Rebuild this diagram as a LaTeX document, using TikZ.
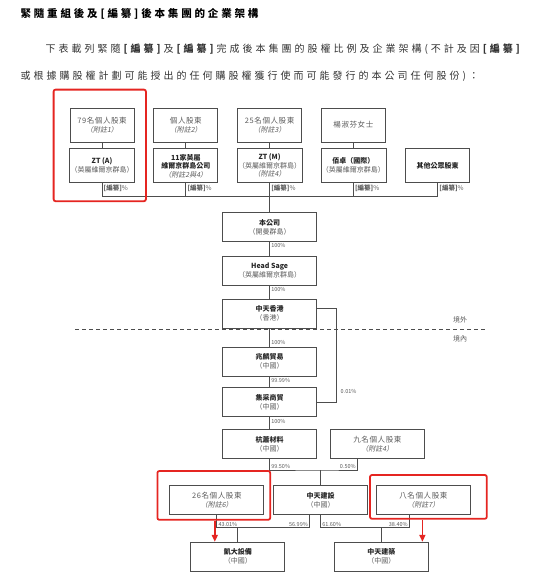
\documentclass[tikz,border=0pt]{standalone}
\usepackage{fontspec}
\setmainfont{Noto Sans CJK TC}[AutoFakeSlant=0.2]
\usepackage{xcolor}
\usepackage{tikz}
\usetikzlibrary{arrows.meta, positioning, fit, calc}
\definecolor{hlred}{HTML}{E52521}
\definecolor{boxline}{HTML}{4D4D4D}
\definecolor{txtgray}{HTML}{5A5A5A}
\newcommand{\ename}[1]{{\bfseries\color{black!85}#1}}
\newcommand{\hname}[1]{{\fontsize{7.5}{9}\selectfont\addfontfeature{LetterSpace=8}#1}}
\newcommand{\notetxt}[1]{{\itshape #1}}

\begin{document}
\begin{tikzpicture}[x=1pt, y=-1pt,
    every node/.style={font=\fontsize{7}{9}\selectfont, text=txtgray},
    holder/.style={rectangle, draw=boxline, line width=0.8pt, minimum width=64pt, minimum height=34pt, align=center, inner sep=1pt},
    ent/.style={rectangle, draw=boxline, line width=0.8pt, minimum width=94pt, minimum height=29pt, align=center, inner sep=1pt},
    pct/.style={font=\fontsize{5.5}{6}\selectfont, inner sep=1.5pt},
    pctb/.style={font=\fontsize{6.5}{7}\selectfont, inner sep=1.5pt},
    link/.style={draw=boxline, line width=0.7pt},
    hl/.style={rectangle, draw=hlred, line width=1.8pt, rounded corners=2pt, inner sep=0pt},
    redarr/.style={-{Triangle[length=7pt, width=6pt]}, draw=hlred, line width=1.6pt}
]
    \useasboundingbox (0,0) rectangle (550,578);

    \node (title) [anchor=west, text=black, font=\fontsize{10.5}{12}\selectfont\bfseries\addfontfeature{LetterSpace=27}] at (17,14) {緊隨重組後及[編纂]後本集團的企業架構};
    \node (intro1) [anchor=west, text=black!80, font=\fontsize{10}{12}\selectfont\addfontfeature{LetterSpace=30}] at (42,49) {下表載列緊隨\textbf{[編纂]}及\textbf{[編纂]}完成後本集團的股權比例及企業架構(不計及因\textbf{[編纂]}};
    \node (intro2) [anchor=west, text=black!80, font=\fontsize{10}{12}\selectfont\addfontfeature{LetterSpace=30}] at (17,76) {或根據購股權計劃可能授出的任何購股權獲行使而可能發行的本公司任何股份)：};

    \node (u1) [holder] at (102,125) {\hname{79名個人股東}\\\notetxt{（附註1）}};
    \node (u2) [holder, right=19pt of u1] {\hname{個人股東}\\\notetxt{（附註2）}};
    \node (u3) [holder, right=19pt of u2] {\hname{25名個人股東}\\\notetxt{（附註3）}};
    \node (u4) [holder, right=19pt of u3] {\hname{楊淑芬女士}};

    \node (m1) [holder, below=6pt of u1] {\ename{ZT (A)}\\（英屬維爾京群島）};
    \node (m2) [holder, below=6pt of u2, font=\fontsize{7}{8.5}\selectfont] {\ename{11家英屬}\\\ename{維爾京群島公司}\\\notetxt{（附註2與4）}};
    \node (m3) [holder, below=6pt of u3, font=\fontsize{7}{8.5}\selectfont] {\ename{ZT (M)}\\（英屬維爾京群島）\\\notetxt{（附註4）}};
    \node (m4) [holder, below=6pt of u4] {\ename{佰卓（國際）}\\（英屬維爾京群島）};
    \node (m5) [holder, right=19pt of m4] {\ename{其他公眾股東}};

    \node (co) [ent, below=29pt of m3] {\ename{本公司}\\（開曼群島）};
    \node (hs) [ent, below=14pt of co] {\ename{Head Sage}\\（英屬維爾京群島）};
    \node (hk) [ent, below=13pt of hs] {\ename{中天香港}\\（香港）};
    \node (zl) [ent, below=18pt of hk] {\ename{兆麟貿易}\\（中國）};
    \node (jc) [ent, below=11pt of zl] {\ename{集采商貿}\\（中國）};
    \node (hx) [ent, below=12pt of jc] {\ename{杭蕭材料}\\（中國）};
    \node (jiu) [ent, right=13pt of hx] {\hname{九名個人股東}\\\notetxt{（附註4）}};

    \node (zts) [ent, below=26pt of hx, xshift=51pt] {\ename{中天建設}\\（中國）};
    \node (g26) [ent, left=9pt of zts] {\hname{26名個人股東}\\\notetxt{（附註6）}};
    \node (g8) [ent, right=8pt of zts] {\hname{八名個人股東}\\\notetxt{（附註7）}};
    \node (kd) [ent, below=27pt of g26, xshift=21pt] {\ename{凱大設備}\\（中國）};
    \node (zj) [ent, below=27pt of g8, xshift=-42pt] {\ename{中天建築}\\（中國）};

    \foreach \i in {1,...,4}
        \draw[link] (u\i) -- (m\i);
    \coordinate (bus) at ([yshift=-13pt]m3.south);
    \draw[link] (m1.south) |- (m5.south |- bus) -- (m5.south);
    \draw[link] (m2.south) -- (m2.south |- bus);
    \draw[link] (m4.south) -- (m4.south |- bus);
    \draw[link] (m3.south) -- (co.north);
    \foreach \i in {1,...,5}
        \node (t\i) [pctb, anchor=north west] at (m\i.south) {\textbf{[編纂]}\%};

    \draw[link] (co) -- (hs);
    \draw[link] (hs) -- (hk);
    \draw[link] (hk) -- (zl);
    \draw[link] (zl) -- (jc);
    \draw[link] (jc) -- (hx);
    \node (c1) [pct, anchor=north west] at (co.south) {100\%};
    \node (c2) [pct, anchor=north west] at (hs.south) {100\%};
    \node (c3) [pct, anchor=south west] at (zl.north) {100\%};
    \node (c4) [pct, anchor=north west] at (zl.south) {99.99\%};
    \node (c5) [pct, anchor=north west] at (jc.south) {100\%};

    \coordinate (bend) at ([xshift=19pt]jc.east);
    \draw[link] ([yshift=5pt]hk.east) -| (bend) -- (jc.east);
    \node (c6) [pct, anchor=west] at ($(jc.east)+(22,-11)$) {0.01\%};

    \draw[boxline, line width=0.7pt, dash pattern=on 4pt off 3pt] (75,329) -- (487,329);
    \node (out) at (460,320) {境外};
    \node (in) at (460,339) {境內};

    \coordinate (j) at ([yshift=15pt]zts.north);
    \coordinate (jiuin) at ([xshift=-20pt]jiu.south);
    \draw[link] (hx.south) |- (j) -| (jiuin);
    \draw[link] (j) -- (zts.north);
    \node (q1) [pct, anchor=south west] at (hx.south |- j) {99.50\%};
    \node (q2) [pct, anchor=south east] at (jiuin |- j) {0.50\%};

    \coordinate (busl) at ([yshift=14pt]kd.north);
    \coordinate (busr) at ([yshift=14pt]zj.north);
    \coordinate (ztsl) at ([xshift=-11pt]zts.south);
    \coordinate (g8out) at ([xshift=-14pt]g8.south);
    \draw[link] (g26.south) |- (busl) -| (ztsl);
    \draw[link] (busl) -- (kd.north);
    \draw[link] (zts.south) |- (busr) -| (g8out);
    \draw[link] (busr) -- (zj.north);
    \node (q3) [pct, anchor=south west] at (g26.south |- busl) {43.01\%};
    \node (q4) [pct, anchor=south east] at (ztsl |- busl) {56.99\%};
    \node (q5) [pct, anchor=south west] at (zts.south |- busr) {61.60\%};
    \node (q6) [pct, anchor=south east] at (g8out |- busr) {38.40\%};

    \node (r1) [hl, fit={([xshift=-16pt,yshift=18pt]u1.north west) ([xshift=11pt,yshift=-18pt]m1.south east)}] {};
    \node (r2) [hl, fit={([xshift=-12pt,yshift=14pt]g26.north west) ([xshift=6pt,yshift=-5pt]g26.south east)}] {};
    \node (r3) [hl, fit={([xshift=-6pt,yshift=10pt]g8.north west) ([xshift=16pt,yshift=-4pt]g8.south east)}] {};
    \coordinate (a1) at ([xshift=1pt]r2.south);
    \coordinate (a2) at ([xshift=-6pt]r3.south);
    \draw[redarr] (a1) -- (a1 |- kd.north);
    \draw[redarr] (a2) -- (a2 |- zj.north);
\end{tikzpicture}
\end{document}
